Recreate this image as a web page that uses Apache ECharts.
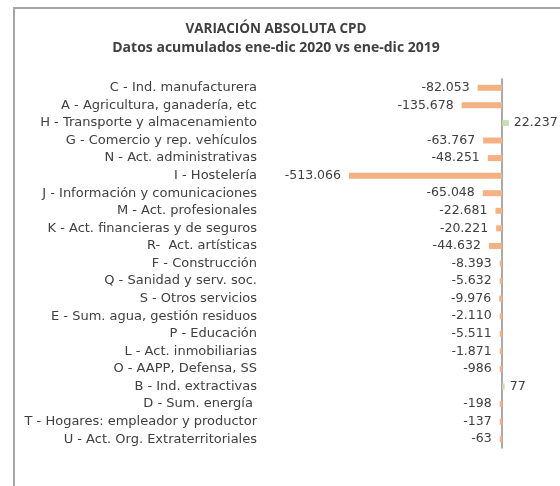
<!DOCTYPE html>
<html>
<head>
<meta charset="utf-8">
<script src="https://cdn.jsdelivr.net/npm/echarts@6/dist/echarts.min.js"></script>
<style>
  html, body { margin: 0; padding: 0; background: #fff; }
  #chart { width: 560px; height: 486px; }
</style>
</head>
<body>
<div id="chart"></div>
<script>
// sectores, de arriba a abajo
const sectores = [
  'C - Ind. manufacturera',
  'A - Agricultura, ganadería, etc',
  'H - Transporte y almacenamiento',
  'G - Comercio y rep. vehículos',
  'N - Act. administrativas',
  'I - Hostelería',
  'J - Información y comunicaciones',
  'M - Act. profesionales',
  'K - Act. financieras y de seguros',
  'R-  Act. artísticas',
  'F - Construcción',
  'Q - Sanidad y serv. soc.',
  'S - Otros servicios',
  'E - Sum. agua, gestión residuos',
  'P - Educación',
  'L - Act. inmobiliarias',
  'O - AAPP, Defensa, SS',
  'B - Ind. extractivas',
  'D - Sum. energía ',
  'T - Hogares: empleador y productor',
  'U - Act. Org. Extraterritoriales'
];
// variación absoluta 2020 vs 2019
const variacion = [
  -82053, -135678, 22237, -63767, -48251, -513066, -65048, -22681, -20221, -44632,
  -8393, -5632, -9976, -2110, -5511, -1871, -986, 77, -198, -137, -63
];

// formato español: punto como separador de miles
function fmt(v) {
  const s = Math.abs(v).toString().replace(/\B(?=(\d{3})+(?!\d))/g, '.');
  return (v < 0 ? '-' : '') + s;
}

const chart = echarts.init(document.getElementById('chart'));
chart.setOption({
  animation: false,
  textStyle: { fontFamily: 'Open Sans' },
  title: {
    text: 'VARIACIÓN ABSOLUTA CPD',
    subtext: 'Datos acumulados ene-dic 2020 vs ene-dic 2019',
    left: 271,
    top: 17,
    textAlign: 'center',
    itemGap: 5,
    textStyle: { fontSize: 13.5, fontWeight: 'bold', color: '#404040' },
    subtextStyle: { fontSize: 14, fontWeight: 'bold', color: '#404040' }
  },
  graphic: [
    {
      type: 'polyline',
      shape: { points: [[14, 490], [14, 8], [564, 8]] },
      style: { fill: null, stroke: '#a6a6a6', lineWidth: 2 }
    }
  ],
  grid: { left: 323, right: 13, top: 79, bottom: 38, outerBoundsMode: 'none', containLabel: false },
  xAxis: {
    type: 'value',
    min: -600000,
    max: 150000,
    show: false
  },
  yAxis: {
    type: 'category',
    data: sectores,
    inverse: true,
    axisTick: { show: false },
    axisLine: { onZero: true, lineStyle: { color: '#8c8c8c', width: 1.5 } },
    axisLabel: { margin: 66, fontSize: 13, fontFamily: 'DejaVu Sans', color: '#404040' }
  },
  series: [
    {
      type: 'bar',
      barWidth: 6,
      barMinHeight: 2.5,
      data: variacion.map(v => ({
        value: v,
        itemStyle: { color: v < 0 ? '#f4b183' : '#c5e0b4' },
        label: { position: v < 0 ? 'left' : 'right', distance: v < 0 ? 8 : 5 }
      })),
      label: {
        show: true,
        fontSize: 12.5,
        fontFamily: 'DejaVu Sans',
        color: '#404040',
        formatter: p => fmt(p.value)
      }
    }
  ]
});
</script>
</body>
</html>
